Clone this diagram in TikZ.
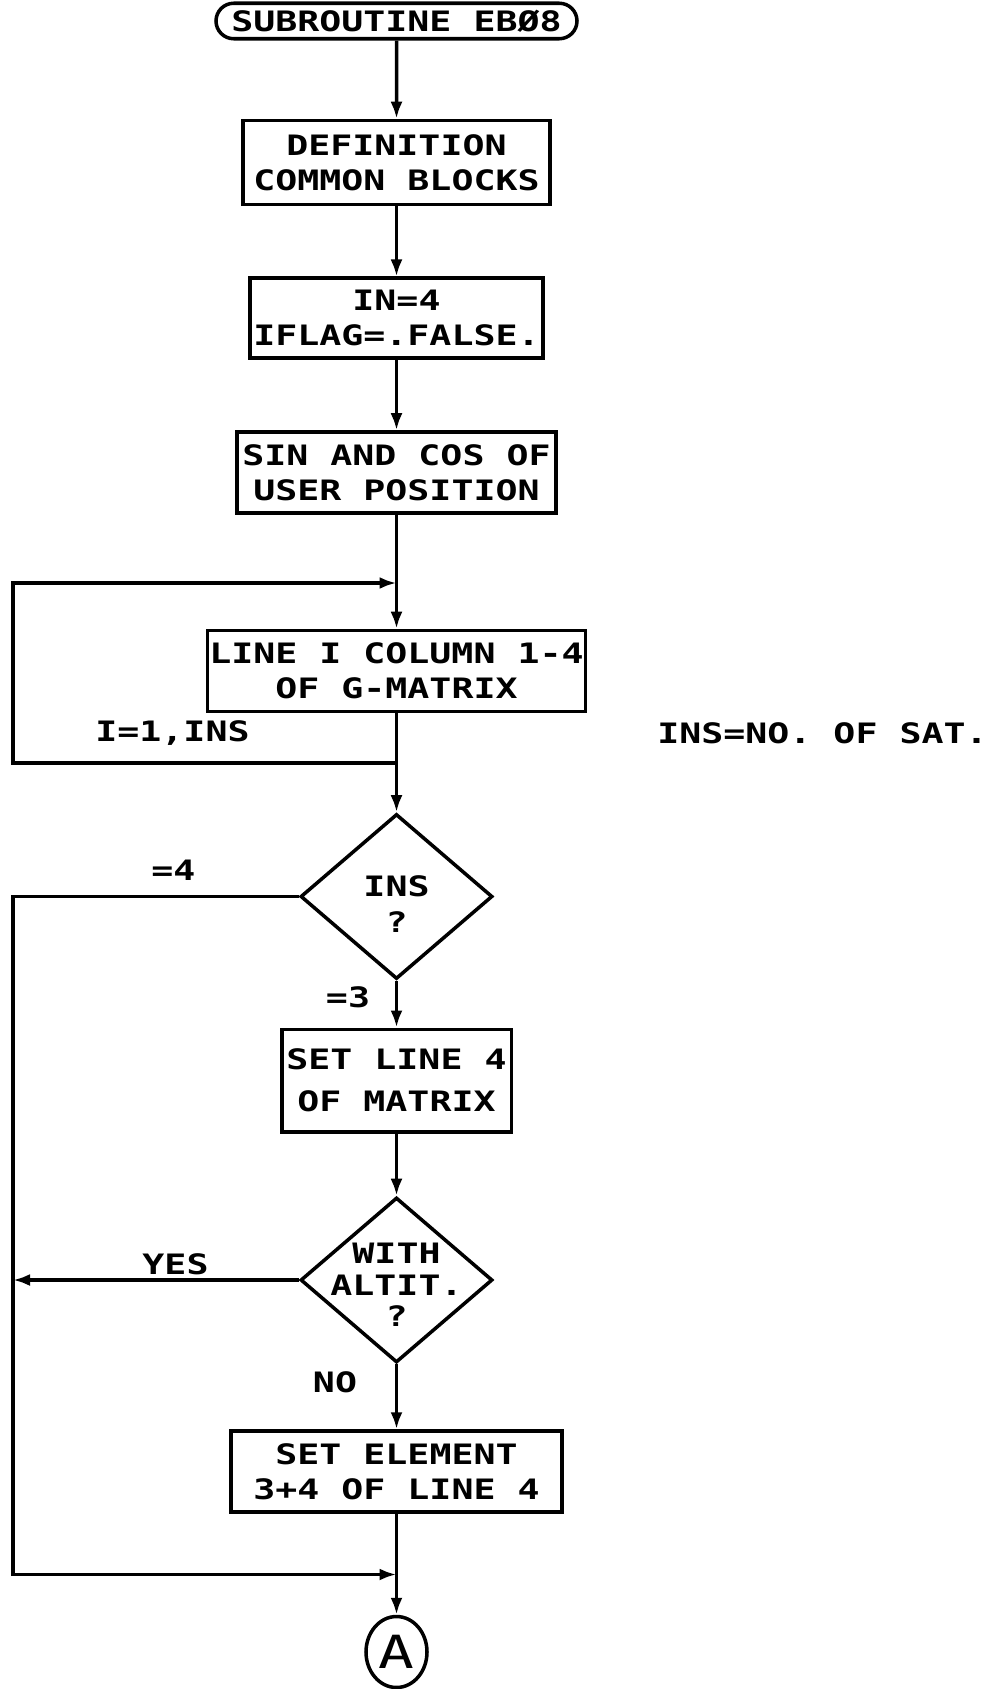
\documentclass[tikz,border=0pt]{standalone}
\usepackage{fontspec}
\newfontfamily\plotfont[FakeStretch=1.3]{DejaVu Sans Mono}
\usetikzlibrary{shapes.geometric,shapes.misc,arrows.meta}

\begin{document}
\begin{tikzpicture}[line width=2pt,
    font=\plotfont\bfseries\fontsize{16}{20}\selectfont,
    box/.style={draw, rectangle, inner sep=0pt, align=center},
    term/.style={draw, rounded rectangle, inner sep=0pt, minimum width=7.22cm, minimum height=0.71cm},
    decide/.style={draw, diamond, inner sep=0pt, minimum width=3.84cm, minimum height=3.3cm},
    arr/.style={-{Latex[length=3.4mm,width=2.4mm]}},
    note/.style={inner sep=1pt}]
  \useasboundingbox (0,0) rectangle (19.74,-33.78);
  \coordinate (rail) at (0.26,0);
  \node[term] (start) at (7.93,-0.42) {SUBROUTINE EBØ8};
  \node[box, minimum width=6.14cm, minimum height=1.68cm] (defs) at (7.93,-3.25) {DEFINITION\\COMMON BLOCKS};
  \node[box, minimum width=5.86cm, minimum height=1.59cm] (init) at (7.93,-6.36) {IN=4\\IFLAG=.FALSE.};
  \node[box, minimum width=6.38cm, minimum height=1.62cm] (sincos) at (7.93,-9.45) {SIN AND COS OF\\USER POSITION};
  \coordinate (looptop) at (7.93,-11.66);
  \node[box, minimum width=7.56cm, minimum height=1.62cm] (gline) at (7.93,-13.42) {LINE I COLUMN 1-4\\OF G-MATRIX};
  \coordinate (loopbot) at (7.93,-15.26);
  \node[note] (range) at (3.45,-14.66) {I=1,INS};
  \node[note] (insnote) at (16.45,-14.66) {INS=NO. OF SAT.};
  \node[decide, label={[align=center, yshift=-0.15cm]center:{INS\\?}}] (ins) at (7.93,-17.93) {};
  \node[note] (eqfour) at (3.47,-17.41) {=4};
  \node[note] (eqthree) at (6.96,-19.94) {=3};
  \node[box, minimum width=4.59cm, minimum height=2.05cm] (setline) at (7.93,-21.61) {SET LINE 4\\[4pt]OF MATRIX};
  \node[decide, label={[align=center, yshift=-0.1cm, font=\plotfont\bfseries\fontsize{16}{18}\selectfont]center:{WITH\\ALTIT.\\?}}] (alt) at (7.93,-25.6) {};
  \node[note] (yes) at (3.51,-25.28) {YES};
  \node[note] (no) at (6.70,-27.65) {NO};
  \node[box, minimum width=6.62cm, minimum height=1.62cm] (setelem) at (7.93,-29.43) {SET ELEMENT\\3+4 OF LINE 4};
  \coordinate (join) at (7.93,-31.49);
  \node[draw, ellipse, inner sep=0pt, minimum width=1.22cm, minimum height=1.42cm,
    font=\plotfont\fontsize{26}{26}\selectfont] (conA) at (7.93,-33.04) {A};

  \draw[arr] (start) -- (defs);
  \draw[arr] (defs) -- (init);
  \draw[arr] (init) -- (sincos);
  \draw[arr] (sincos) -- (gline);
  \draw[arr] (loopbot) -- (loopbot -| rail) |- (looptop);
  \draw[arr] (gline) -- (ins);
  \draw[arr] (ins) -- (setline);
  \draw[arr] (setline) -- (alt);
  \draw[arr] (alt) -- (setelem);
  \draw[arr] (setelem) -- (conA);
  \draw[arr] (ins.west) -- (ins.west -| rail) |- (join);
  \draw[arr] (alt.west) -- (alt.west -| rail);
\end{tikzpicture}
\end{document}
